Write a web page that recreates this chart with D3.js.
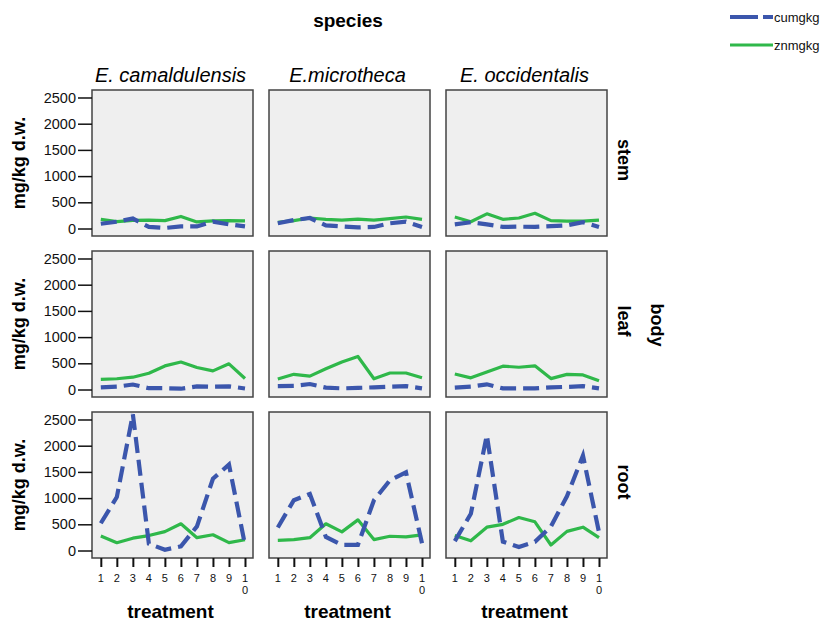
<!DOCTYPE html>
<html><head><meta charset="utf-8">
<script src="https://cdn.jsdelivr.net/npm/d3@7"></script>
<style>body{margin:0;background:#fff}</style>
</head><body><svg id="c" width="825" height="621"></svg>
<script>
const species = ["E. camaldulensis", "E.microtheca", "E. occidentalis"];
const parts = ["stem", "leaf", "root"];
const treatments = [1,2,3,4,5,6,7,8,9,10];
const yTicks = [0, 500, 1000, 1500, 2000, 2500];
const seriesNames = ["cumgkg", "znmgkg"];

// cumgkg[part][species]
const cu_stem = [
  [90, 130, 190, 30, 10, 40, 40, 130, 80, 40],
  [100, 160, 200, 60, 40, 20, 30, 100, 130, 30],
  [80, 120, 80, 30, 35, 30, 45, 60, 120, 30]
];
const zn_stem = [
  [175, 130, 155, 160, 150, 230, 125, 145, 150, 145],
  [120, 150, 200, 175, 160, 180, 160, 190, 220, 175],
  [220, 130, 280, 175, 200, 290, 150, 140, 140, 160]
];
const cu_leaf = [
  [40, 55, 95, 25, 25, 15, 60, 55, 60, 20],
  [65, 70, 105, 35, 22, 30, 42, 54, 65, 22],
  [35, 54, 99, 22, 22, 22, 42, 50, 65, 22]
];
const zn_leaf = [
  [195, 205, 235, 310, 450, 525, 420, 355, 490, 210],
  [200, 290, 255, 395, 525, 630, 205, 315, 315, 225],
  [295, 222, 335, 445, 425, 452, 208, 288, 278, 168]
];
const cu_root = [
  [520, 1020, 2600, 130, 15, 80, 460, 1370, 1640, 110],
  [440, 960, 1080, 260, 108, 108, 960, 1340, 1490, 140],
  [180, 700, 2200, 170, 65, 165, 460, 1035, 1810, 350]
];
const zn_root = [
  [275, 148, 235, 285, 360, 510, 245, 300, 150, 205],
  [195, 208, 245, 510, 355, 585, 208, 272, 260, 298],
  [285, 185, 445, 500, 630, 548, 105, 365, 445, 245]
];

const cuData = [cu_stem, cu_leaf, cu_root];
const znData = [zn_stem, zn_leaf, zn_root];

const BLUE = "#3b56ac", GREEN = "#2fb84a";
const svg = d3.select("#c");
const colLeft = [92, 269, 446], rowTop = [90, 251, 412];
const PW = 161, PH = 146;

const x = d3.scaleLinear().domain([0.45, 10.5]).range([0, PW]);
const y = d3.scaleLinear().domain([-143, 2643]).range([PH, 0]);
const line = d3.line().x((d,i)=>x(treatments[i])).y(d=>y(d));
const FONT = "Liberation Sans, Arial, Helvetica, sans-serif";

svg.append("text").attr("x", 348).attr("y", 27).attr("text-anchor","middle")
  .attr("font-family", FONT).attr("font-weight","bold").attr("font-size",19).text("species");

species.forEach((s, c) => {
  svg.append("text").attr("x", colLeft[c] + PW/2 - 2).attr("y", 82).attr("text-anchor","middle")
    .attr("font-family", FONT).attr("font-style","italic").attr("font-size",20).text(s);
});

parts.forEach((p, r) => {
  species.forEach((s, c) => {
    const g = svg.append("g").attr("transform", `translate(${colLeft[c]},${rowTop[r]})`);
    g.append("defs").append("clipPath").attr("id", `cp${r}${c}`)
      .append("rect").attr("width", PW).attr("height", PH);
    g.append("rect").attr("width", PW).attr("height", PH).attr("fill", "#efefef");
    const inner = g.append("g").attr("clip-path", `url(#cp${r}${c})`);
    inner.append("path").datum(znData[r][c]).attr("d", line).attr("fill","none")
      .attr("stroke", GREEN).attr("stroke-width", 3.2).attr("stroke-linejoin","round");
    inner.append("path").datum(cuData[r][c]).attr("d", line).attr("fill","none")
      .attr("stroke", BLUE).attr("stroke-width", 4.2).attr("stroke-dasharray","16,7");
    g.append("rect").attr("width", PW).attr("height", PH).attr("fill", "none")
      .attr("stroke", "#444").attr("stroke-width", 1.5);

    if (c === 0) {
      const ya = g.append("g").call(d3.axisLeft(y).tickValues(yTicks).tickSize(14).tickPadding(2).tickFormat(d3.format("d")));
      ya.select(".domain").remove();
      ya.selectAll("line").attr("stroke","#111").attr("stroke-width",1.5);
      ya.selectAll("text").attr("font-family", FONT).attr("font-size", 14.5).attr("fill","#111");
    }
    if (r === 2) {
      const xa = g.append("g").attr("transform", `translate(0,${PH})`)
        .call(d3.axisBottom(x).tickValues(treatments).tickSize(9).tickFormat(""));
      xa.select(".domain").remove();
      xa.selectAll("line").attr("stroke","#111").attr("stroke-width",2);
      treatments.forEach(t => {
        const str = String(t);
        const tx = g.append("text").attr("x", x(t)).attr("y", PH + 24).attr("text-anchor","middle")
          .attr("font-family", FONT).attr("font-size", 11).attr("fill","#111");
        str.split("").forEach((ch, k) => {
          tx.append("tspan").attr("x", x(t)).attr("dy", k === 0 ? 0 : 12).text(ch);
        });
      });
      svg.append("text").attr("x", colLeft[c] + PW/2 - 2).attr("y", 618).attr("text-anchor","middle")
        .attr("font-family", FONT).attr("font-weight","bold").attr("font-size",19).text("treatment");
    }
  });
  // y label
  svg.append("text").attr("transform", `translate(25,${rowTop[r] + PH/2}) rotate(-90)`)
    .attr("text-anchor","middle").attr("font-family", FONT).attr("font-weight","bold")
    .attr("font-size",18).text("mg/kg d.w.");
  // row label
  svg.append("text").attr("transform", `translate(618,${rowTop[r] + PH/2 - 3}) rotate(90)`)
    .attr("text-anchor","middle").attr("font-family", FONT).attr("font-weight","bold")
    .attr("font-size",18).text(p);
});

svg.append("text").attr("transform", `translate(651,325) rotate(90)`)
  .attr("text-anchor","middle").attr("font-family", FONT).attr("font-weight","bold")
  .attr("font-size",18).text("body");

// legend
const legY = [17, 45];
seriesNames.forEach((n, i) => {
  svg.append("line").attr("x1", 730).attr("x2", 773).attr("y1", legY[i]).attr("y2", legY[i])
    .attr("stroke", i === 0 ? BLUE : GREEN).attr("stroke-width", i === 0 ? 4.2 : 3.2)
    .attr("stroke-dasharray", i === 0 ? "28,5" : null);
  svg.append("text").attr("x", 774).attr("y", legY[i] + 5).attr("font-family", FONT)
    .attr("font-size", 13).attr("fill","#111").text(n);
});
</script></body></html>
